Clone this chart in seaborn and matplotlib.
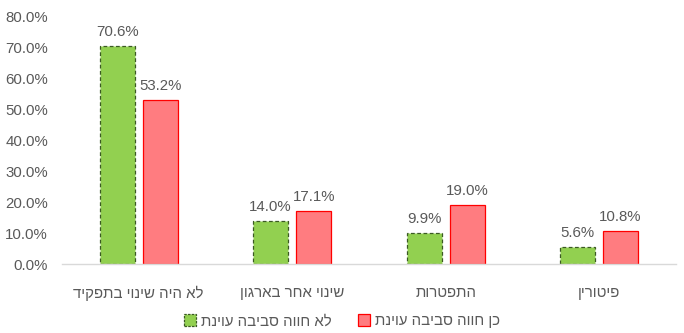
import matplotlib
matplotlib.use("Agg")
import matplotlib.pyplot as plt
from matplotlib.patches import Patch
from matplotlib.ticker import FuncFormatter, MultipleLocator
import seaborn as sns
import pandas as pd

# Data (percent)
categories = ["לא היה שינוי בתפקיד", "שינוי אחר בארגון", "התפטרות", "פיטורין"]
series_names = ["לא חווה סביבה עוינת", "כן חווה סביבה עוינת"]
no_hostile = [70.6, 14.0, 9.9, 5.6]
yes_hostile = [53.2, 17.1, 19.0, 10.8]


def rtl(s):
    """Hebrew text is stored in logical order; matplotlib lays glyphs out left to right."""
    return s[::-1]


df = pd.DataFrame({
    "category": [rtl(c) for c in categories] * 2,
    "series": [rtl(series_names[0])] * 4 + [rtl(series_names[1])] * 4,
    "value": no_hostile + yes_hostile,
})

sns.set_theme(style="white")
plt.rcParams["font.family"] = ["Liberation Sans", "DejaVu Sans"]

GREEN = "#92D050"
GREEN_EDGE = "#3B5A23"
RED = "#FF7C80"
RED_EDGE = "#FF0000"
TEXT = "#595959"

fig = plt.figure(figsize=(6.84, 3.33), dpi=100)
ax = fig.add_axes([0.0906, 0.2072, 0.8974, 0.742])

sns.barplot(data=df, x="category", y="value", hue="series",
            hue_order=[rtl(s) for s in series_names],
            palette=[GREEN, RED], width=0.56, gap=0.186,
            saturation=1, legend=False, ax=ax)

edge_styles = [(GREEN_EDGE, (0, (3, 2))), (RED_EDGE, "solid")]
for container, (ec, ls) in zip(ax.containers, edge_styles):
    for bar in container:
        bar.set_edgecolor(ec)
        bar.set_linestyle(ls)
        bar.set_linewidth(0.9)
    ax.bar_label(container, fmt="%.1f%%", padding=5, fontsize=10.8, color=TEXT)

ax.set_ylim(0, 80)
ax.set_xlim(-0.5, 3.5)
ax.yaxis.set_major_locator(MultipleLocator(10))
ax.yaxis.set_major_formatter(FuncFormatter(lambda v, p: f"{v:.1f}%"))
ax.set_xlabel("")
ax.set_ylabel("")
ax.tick_params(axis="y", length=0, pad=10, labelsize=10.8, labelcolor=TEXT)
ax.tick_params(axis="x", length=0, pad=16, labelsize=10.8, labelcolor=TEXT)

for side in ["left", "right", "top"]:
    ax.spines[side].set_visible(False)
ax.spines["bottom"].set_color("#D9D9D9")
ax.spines["bottom"].set_linewidth(1)

handles = [
    Patch(facecolor=GREEN, edgecolor=GREEN_EDGE, linestyle=(0, (2, 1)), linewidth=0.9,
          label=rtl(series_names[0])),
    Patch(facecolor=RED, edgecolor=RED_EDGE, linewidth=0.9, label=rtl(series_names[1])),
]
fig.legend(handles=handles, loc="center", bbox_to_anchor=(0.5, 0.035), ncol=2,
           frameon=False, fontsize=10.8, labelcolor=TEXT, handlelength=0.8,
           handleheight=0.8, handletextpad=0.3, columnspacing=1.8)

fig.savefig("out.png", dpi=100)
